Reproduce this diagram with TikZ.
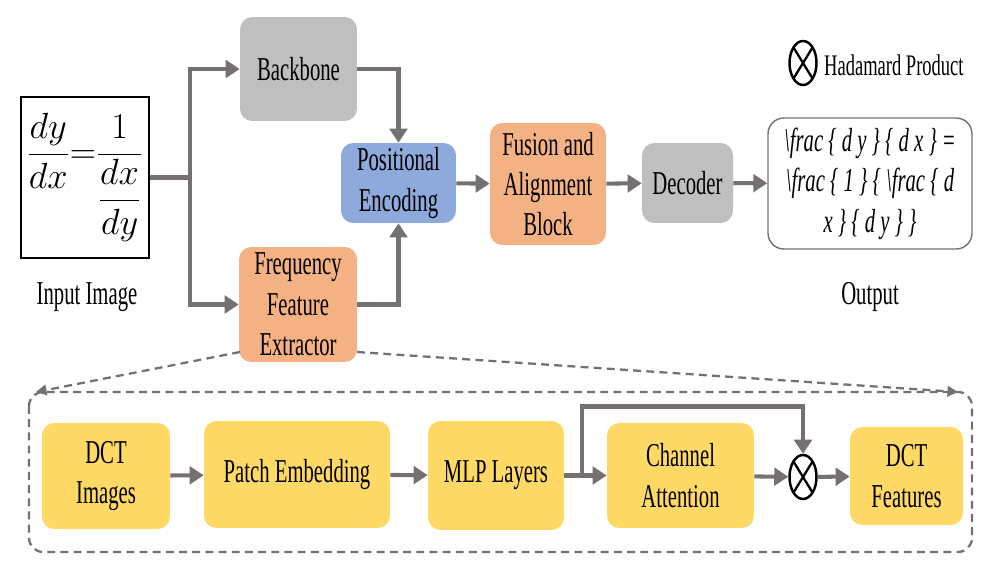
\documentclass[tikz,border=0pt]{standalone}
\usepackage{amsmath}
\usepackage{fontspec}
\setmainfont[FakeStretch=0.62]{Liberation Serif}
\usetikzlibrary{arrows.meta, positioning, shapes.geometric}

\definecolor{boxgray}{HTML}{BFBFBF}
\definecolor{boxblue}{HTML}{8EA9DB}
\definecolor{boxorange}{HTML}{F4B183}
\definecolor{boxyellow}{HTML}{FFD966}
\definecolor{linegray}{HTML}{757171}

\begin{document}
\begin{tikzpicture}[x=0.02cm, y=-0.02cm,
    block/.style={rounded corners=7pt, align=center, inner sep=1pt,
        font=\fontsize{19}{23}\selectfont},
    flow/.style={draw=linegray, line width=2.3pt, -{Triangle[length=8pt, width=10pt]}},
    zoomline/.style={draw=linegray, line width=1.3pt, dash pattern=on 4.5pt off 3pt},
    hadamard/.style={ellipse, draw=black, line width=1.4pt, fill=white,
        minimum width=0.54cm, minimum height=0.88cm, inner sep=0pt,
        path picture={\draw[line width=1.3pt]
            (path picture bounding box.north west) -- (path picture bounding box.south east)
            (path picture bounding box.north east) -- (path picture bounding box.south west);}},
    caption/.style={font=\fontsize{19}{23}\selectfont}]

    \useasboundingbox (0,0) rectangle (1000,571);

    % upper pipeline
    \node[draw, line width=0.8pt, minimum width=2.32cm, minimum height=3.22cm,
        font=\fontsize{21}{25}\selectfont] (inimg) at (85,177.5)
        {$\dfrac{dy}{dx}{=}\dfrac{1}{\dfrac{dx}{dy}}$};
    \node[caption] (inlabel) at (87,297) {Input Image};

    \node[block, fill=boxgray, minimum width=2.34cm, minimum height=2.08cm] (backbone) at (298.5,69) {Backbone};
    \node[block, fill=boxorange, minimum width=2.36cm, minimum height=2.3cm] (freq) at (298,304.5) {Frequency\\Feature\\Extractor};
    \node[block, fill=boxblue, minimum width=2.3cm, minimum height=1.6cm] (posenc) at (398.5,183) {Positional\\Encoding};
    \node[block, fill=boxorange, minimum width=2.32cm, minimum height=2.44cm] (fusion) at (548,184) {Fusion and\\Alignment\\Block};
    \node[block, fill=boxgray, minimum width=1.82cm, minimum height=1.6cm] (decoder) at (687.5,183) {Decoder};
    \node[block, draw=linegray, line width=0.8pt, rounded corners=9pt, fill=white,
        minimum width=4.08cm, minimum height=2.62cm,
        font=\itshape\fontsize{19}{23}\selectfont] (output) at (870,183.5)
        {\textbackslash frac \{ d y \} \{ d x \} =\\
         \textbackslash frac \{ 1 \} \{ \textbackslash frac \{ d\\
         x \} \{ d y \} \}};
    \node[caption] (outlabel) at (870,297) {Output};

    % legend
    \node[hadamard] (legcirc) at (803,63) {};
    \node[anchor=west, font=\fontsize{17}{21}\selectfont] (legtext) at (818,65) {Hadamard Product};

    \coordinate (split) at (190,177.5);
    \draw[flow, -] (inimg) -- (split);
    \draw[flow] (split) |- (backbone);
    \draw[flow] (split) |- (freq);
    \draw[flow] (backbone) -| (posenc);
    \draw[flow] (freq) -| (posenc);
    \draw[flow] (posenc) -- (fusion);
    \draw[flow] (fusion) -- (decoder);
    \draw[flow] (decoder) -- (output);

    % zoom into the frequency branch
    \draw[zoomline, rounded corners=8pt] (29,392) rectangle (972,552);
    \coordinate (zoomleft) at (36,392);
    \coordinate (zoomright) at (958,392);
    \draw[zoomline, -{Triangle[length=6pt, width=6pt]}] (240,352) -- (zoomleft);
    \draw[zoomline, -{Triangle[length=6pt, width=6pt]}] (357,352) -- (zoomright);

    % lower pipeline
    \node[block, fill=boxyellow, minimum width=2.56cm, minimum height=2.12cm] (dctimg) at (106,476) {DCT\\Images};
    \node[block, fill=boxyellow, minimum width=3.72cm, minimum height=2.14cm] (patch) at (297,474.5) {Patch Embedding};
    \node[block, fill=boxyellow, minimum width=2.72cm, minimum height=2.18cm] (mlp) at (496,475.5) {MLP Layers};
    \node[block, fill=boxyellow, minimum width=2.94cm, minimum height=2.1cm] (chatt) at (680.5,475.5) {Channel\\Attention};
    \node[hadamard] (had) at (803,477) {};
    \node[block, fill=boxyellow, minimum width=2.26cm, minimum height=1.96cm] (dctfeat) at (906.5,476) {DCT\\Features};

    \coordinate (skip) at (582,475.5);
    \draw[flow] (dctimg) -- (patch);
    \draw[flow] (patch) -- (mlp);
    \draw[flow] (mlp) -- (chatt);
    \draw[flow] (chatt) -- (had);
    \draw[flow] (had) -- (dctfeat);
    \draw[flow] (skip) -- ++(0,-69) -| (had);
\end{tikzpicture}
\end{document}
